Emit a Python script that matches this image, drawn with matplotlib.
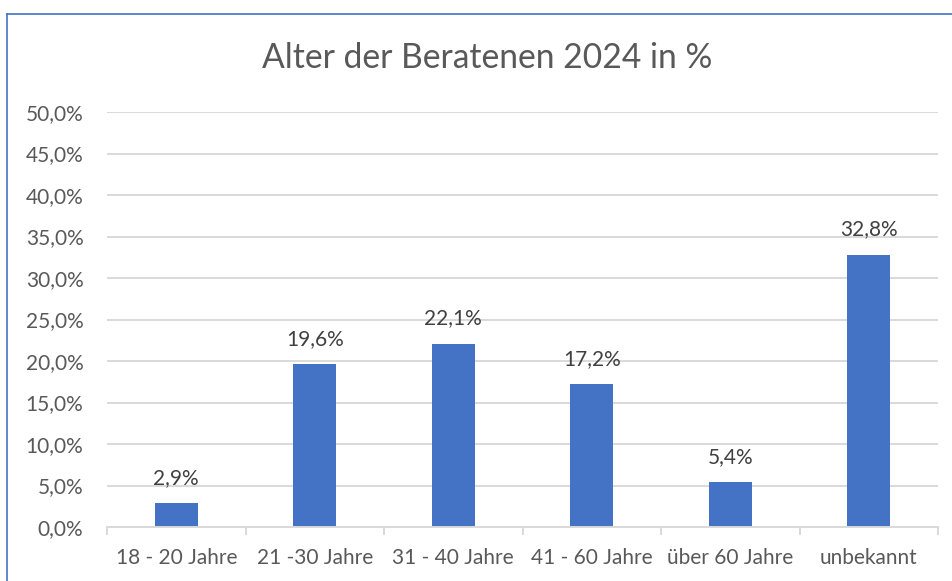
import matplotlib
matplotlib.use("Agg")
import matplotlib.pyplot as plt
from matplotlib.lines import Line2D
from matplotlib.ticker import FuncFormatter, FixedLocator

# Daten aus der Grafik
kategorien = ["18 - 20 Jahre", "21 -30 Jahre", "31 - 40 Jahre", "41 - 60 Jahre", "über 60 Jahre", "unbekannt"]
anteile = [2.9, 19.6, 22.1, 17.2, 5.4, 32.8]
titel = "Alter der Beratenen 2024 in %"

BLAU = "#4472C4"
TEXT = "#595959"
GRID = "#D9D9D9"


def de_prozent(wert, pos=None):
    return f"{wert:.1f}%".replace(".", ",")


def BarChart():
    plt.rcParams["font.family"] = ["Lato", "DejaVu Sans"]
    fig = plt.figure(figsize=(9.53, 5.81), dpi=100)
    ax = fig.add_axes([0.1123, 0.0929, 0.8720, 0.7143])

    x = list(range(len(kategorien)))
    bars = ax.bar(x, anteile, width=0.31, color=BLAU, zorder=3)

    for b, v in zip(bars, anteile):
        ax.annotate(de_prozent(v), (b.get_x() + b.get_width() / 2, b.get_height()),
                    xytext=(0, 11), textcoords="offset points",
                    ha="center", va="bottom", fontsize=15, color="#404040")

    ax.set_xlim(-0.5, len(kategorien) - 0.5)
    ax.set_ylim(0, 50)
    ax.set_yticks([i * 5 for i in range(11)])
    ax.yaxis.set_major_formatter(FuncFormatter(de_prozent))
    ax.set_xticks(x)
    ax.set_xticklabels(kategorien)
    ax.xaxis.set_minor_locator(FixedLocator([i - 0.5 for i in range(len(kategorien) + 1)]))

    ax.grid(axis="y", color=GRID, linewidth=1.4, zorder=0)
    for s in ["top", "right", "left"]:
        ax.spines[s].set_visible(False)
    ax.spines["bottom"].set_color(GRID)
    ax.spines["bottom"].set_linewidth(1.4)
    ax.spines["bottom"].set_zorder(4)

    ax.tick_params(axis="y", length=0, pad=17, labelsize=15, labelcolor=TEXT)
    ax.tick_params(axis="x", which="major", length=0, pad=15, labelsize=15, labelcolor=TEXT)
    ax.tick_params(axis="x", which="minor", length=6, width=1.4, color=GRID)

    fig.text(0.511, 0.90, titel, ha="center", va="center", fontsize=24.2, color=TEXT)

    # Rahmen des Diagramms
    fig.add_artist(Line2D([7 / 953, 7 / 953], [0, 1 - 14 / 581], color=BLAU, linewidth=1.2,
                          transform=fig.transFigure))
    fig.add_artist(Line2D([7 / 953, 1], [1 - 14 / 581, 1 - 14 / 581], color=BLAU, linewidth=1.2,
                          transform=fig.transFigure))

    fig.savefig("out.png", dpi=100)


if __name__ == "__main__":
    BarChart()
